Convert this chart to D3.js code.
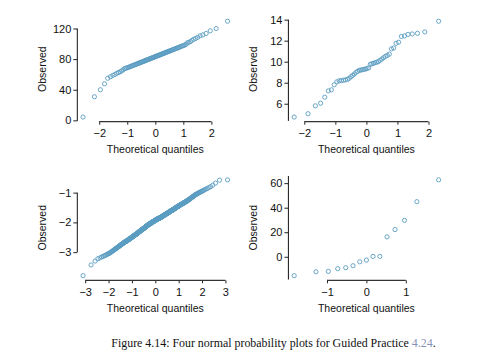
<!DOCTYPE html>
<html>
<head>
<meta charset="utf-8">
<script src="https://cdn.jsdelivr.net/npm/d3@7"></script>
<style>
  body { margin: 0; background: #fff; }
  svg { display: block; }
  text { font-family: "Liberation Sans", Arial, sans-serif; }
</style>
</head>
<body>
<div id="chart"></div>
<script>
const p1Obs = [4.3, 30.8, 40, 47.8, 55, 57, 58.7, 60, 61.5, 62.5,
  63.5, 64.5, 66, 67.5, 68, 68.5, 69.1, 69.6, 70.2, 70.7,
  71.3, 71.8, 72.3, 72.7, 73.2, 73.6, 74.1, 74.5, 75, 75.4,
  75.8, 76.2, 76.6, 77, 77.4, 77.8, 78.2, 78.6, 79, 79.3,
  79.7, 80.1, 80.5, 80.8, 81.2, 81.6, 81.9, 82.3, 82.6, 83,
  83.4, 83.8, 84.1, 84.5, 84.8, 85.2, 85.6, 85.9, 86.3, 86.7,
  87.1, 87.4, 87.8, 88.2, 88.6, 89, 89.4, 89.8, 90.2, 90.6,
  91, 91.4, 91.9, 92.3, 92.8, 93.2, 93.7, 94.1, 94.6, 95.1,
  95.7, 96.2, 96.8, 97.3, 97.9, 98.5, 99.5, 101.5, 102, 103,
  104.5, 106, 107, 108.5, 110.5, 111.7, 113.5, 117, 120, 129.5];

const p2Obs = [4.73, 5.05, 5.8, 6.05, 6.62, 7.22, 7.32, 7.8, 8.08, 8.18,
  8.2, 8.24, 8.26, 8.32, 8.42, 8.57, 8.7, 8.83, 8.99, 9.08,
  9.18, 9.2, 9.24, 9.28, 9.3, 9.35, 9.42, 9.75, 9.8, 9.85,
  9.9, 9.95, 10, 10.12, 10.25, 10.38, 10.5, 10.6, 10.72, 11.22,
  11.3, 11.75, 11.85, 12.4, 12.45, 12.6, 12.64, 12.7, 12.83, 13.85];

const p3Obs = [-3.79,-3.43,-3.30,-3.22,-3.19,-3.16,-3.14,-3.12,-3.10,-3.08,
  -3.06,-3.05,-3.03,-3.02,-3.00,-2.98,-2.97,-2.95,-2.94,-2.92,
  -2.91,-2.90,-2.88,-2.87,-2.86,-2.85,-2.84,-2.83,-2.82,-2.81,
  -2.80,-2.79,-2.78,-2.77,-2.76,-2.75,-2.75,-2.74,-2.73,-2.72,
  -2.71,-2.71,-2.70,-2.69,-2.68,-2.68,-2.67,-2.66,-2.66,-2.65,
  -2.65,-2.64,-2.64,-2.63,-2.63,-2.62,-2.62,-2.61,-2.61,-2.60,
  -2.59,-2.59,-2.58,-2.58,-2.57,-2.57,-2.56,-2.56,-2.55,-2.55,
  -2.54,-2.54,-2.53,-2.53,-2.52,-2.52,-2.51,-2.51,-2.50,-2.50,
  -2.49,-2.49,-2.48,-2.48,-2.48,-2.47,-2.47,-2.46,-2.46,-2.45,
  -2.45,-2.44,-2.44,-2.43,-2.43,-2.43,-2.42,-2.42,-2.41,-2.41,
  -2.41,-2.40,-2.40,-2.39,-2.39,-2.39,-2.38,-2.38,-2.37,-2.37,
  -2.37,-2.36,-2.36,-2.35,-2.35,-2.35,-2.34,-2.34,-2.33,-2.33,
  -2.33,-2.32,-2.32,-2.31,-2.31,-2.31,-2.30,-2.30,-2.29,-2.29,
  -2.29,-2.28,-2.28,-2.28,-2.27,-2.27,-2.27,-2.26,-2.26,-2.26,
  -2.25,-2.25,-2.24,-2.24,-2.24,-2.23,-2.23,-2.23,-2.22,-2.22,
  -2.22,-2.21,-2.21,-2.21,-2.20,-2.20,-2.20,-2.19,-2.19,-2.19,
  -2.18,-2.18,-2.18,-2.17,-2.17,-2.17,-2.16,-2.16,-2.15,-2.15,
  -2.15,-2.14,-2.14,-2.14,-2.13,-2.13,-2.13,-2.12,-2.12,-2.12,
  -2.11,-2.11,-2.11,-2.10,-2.10,-2.10,-2.10,-2.09,-2.09,-2.09,
  -2.08,-2.08,-2.08,-2.07,-2.07,-2.07,-2.07,-2.06,-2.06,-2.06,
  -2.05,-2.05,-2.05,-2.05,-2.04,-2.04,-2.04,-2.04,-2.03,-2.03,
  -2.03,-2.03,-2.02,-2.02,-2.02,-2.02,-2.01,-2.01,-2.01,-2.01,
  -2.00,-2.00,-2.00,-2.00,-1.99,-1.99,-1.99,-1.99,-1.98,-1.98,
  -1.98,-1.98,-1.97,-1.97,-1.97,-1.97,-1.96,-1.96,-1.96,-1.96,
  -1.95,-1.95,-1.95,-1.95,-1.94,-1.94,-1.94,-1.94,-1.93,-1.93,
  -1.93,-1.93,-1.93,-1.92,-1.92,-1.92,-1.92,-1.91,-1.91,-1.91,
  -1.91,-1.90,-1.90,-1.90,-1.90,-1.90,-1.89,-1.89,-1.89,-1.89,
  -1.89,-1.88,-1.88,-1.88,-1.88,-1.88,-1.87,-1.87,-1.87,-1.87,
  -1.87,-1.86,-1.86,-1.86,-1.86,-1.86,-1.85,-1.85,-1.85,-1.85,
  -1.85,-1.84,-1.84,-1.84,-1.84,-1.83,-1.83,-1.83,-1.82,-1.82,
  -1.82,-1.82,-1.81,-1.81,-1.81,-1.81,-1.80,-1.80,-1.80,-1.80,
  -1.79,-1.79,-1.79,-1.79,-1.78,-1.78,-1.78,-1.78,-1.77,-1.77,
  -1.77,-1.76,-1.76,-1.76,-1.76,-1.75,-1.75,-1.75,-1.74,-1.74,
  -1.74,-1.74,-1.73,-1.73,-1.73,-1.73,-1.72,-1.72,-1.72,-1.72,
  -1.71,-1.71,-1.71,-1.71,-1.70,-1.70,-1.70,-1.70,-1.69,-1.69,
  -1.69,-1.68,-1.68,-1.68,-1.68,-1.67,-1.67,-1.67,-1.66,-1.66,
  -1.66,-1.65,-1.65,-1.65,-1.64,-1.64,-1.64,-1.63,-1.63,-1.63,
  -1.63,-1.62,-1.62,-1.62,-1.61,-1.61,-1.61,-1.60,-1.60,-1.60,
  -1.60,-1.59,-1.59,-1.59,-1.58,-1.58,-1.58,-1.57,-1.57,-1.57,
  -1.56,-1.56,-1.56,-1.55,-1.55,-1.55,-1.54,-1.54,-1.53,-1.53,
  -1.53,-1.52,-1.52,-1.52,-1.51,-1.51,-1.50,-1.50,-1.49,-1.49,
  -1.49,-1.48,-1.48,-1.48,-1.47,-1.47,-1.47,-1.46,-1.46,-1.46,
  -1.45,-1.45,-1.44,-1.44,-1.43,-1.43,-1.42,-1.42,-1.41,-1.41,
  -1.41,-1.40,-1.40,-1.39,-1.39,-1.39,-1.38,-1.38,-1.37,-1.37,
  -1.36,-1.36,-1.35,-1.35,-1.34,-1.34,-1.33,-1.33,-1.32,-1.32,
  -1.31,-1.31,-1.30,-1.30,-1.29,-1.28,-1.28,-1.27,-1.26,-1.25,
  -1.25,-1.24,-1.23,-1.23,-1.22,-1.21,-1.20,-1.19,-1.18,-1.17,
  -1.16,-1.15,-1.14,-1.13,-1.12,-1.11,-1.10,-1.08,-1.07,-1.06,
  -1.05,-1.04,-1.03,-1.02,-1.00,-0.99,-0.98,-0.97,-0.95,-0.94,
  -0.92,-0.90,-0.88,-0.86,-0.83,-0.80,-0.75,-0.68,-0.58,-0.57];

const p4Obs = [-15.4, -12.2, -11.9, -9.7, -8.9, -7.3, -4.1, -2.7, 0.3, 0.3,
  16.2, 22.2, 29.7, 44.9, 62.7];

// tick labels
const p1XTicks = [-2, -1, 0, 1, 2], p1YTicks = [0, 40, 80, 120];
const p2XTicks = [-2, -1, 0, 1, 2], p2YTicks = [6, 8, 10, 12, 14];
const p3XTicks = [-3, -2, -1, 0, 1, 2, 3], p3YTicks = [-3, -2, -1];
const p4XTicks = [-1, 0, 1], p4YTicks = [0, 20, 40, 60];

const xTitle = "Theoretical quantiles";
const yTitle = "Observed";
const pointColor = "#5b9dc2";
const fmt = d3.format("d");

// plot regions (R style mfrow 2x2)
const plotW = 156, plotH = 103.5;
const panels = [
  { obs: p1Obs, xTicks: p1XTicks, yTicks: p1YTicks, left: 77.3, top: 17.4, yLine: [null, 120] },
  { obs: p2Obs, xTicks: p2XTicks, yTicks: p2YTicks, left: 288.4, top: 17.4, yLine: [null, 14] },
  { obs: p3Obs, xTicks: p3XTicks, yTicks: p3YTicks, left: 77.3, top: 176, yLine: [-3, -1] },
  { obs: p4Obs, xTicks: p4XTicks, yTicks: p4YTicks, left: 288.4, top: 176, yLine: [null, null] }
];

// inverse normal cdf (Acklam)
function qnorm(p) {
  const a = [-3.969683028665376e+01, 2.209460984245205e+02, -2.759285104469687e+02, 1.383577518672690e+02, -3.066479806614716e+01, 2.506628277459239e+00];
  const b = [-5.447609879822406e+01, 1.615858368580409e+02, -1.556989798598866e+02, 6.680131188771972e+01, -1.328068155288572e+01];
  const c = [-7.784894002430293e-03, -3.223964580411365e-01, -2.400758277161838e+00, -2.549732539343734e+00, 4.374664141464968e+00, 2.938163982698783e+00];
  const d = [7.784695709041462e-03, 3.224671290700398e-01, 2.445134137142996e+00, 3.754408661907416e+00];
  const pl = 0.02425;
  if (p < pl) {
    const q = Math.sqrt(-2 * Math.log(p));
    return (((((c[0]*q+c[1])*q+c[2])*q+c[3])*q+c[4])*q+c[5]) / ((((d[0]*q+d[1])*q+d[2])*q+d[3])*q+1);
  }
  if (p > 1 - pl) {
    const q = Math.sqrt(-2 * Math.log(1 - p));
    return -(((((c[0]*q+c[1])*q+c[2])*q+c[3])*q+c[4])*q+c[5]) / ((((d[0]*q+d[1])*q+d[2])*q+d[3])*q+1);
  }
  const q = p - 0.5, r = q * q;
  return (((((a[0]*r+a[1])*r+a[2])*r+a[3])*r+a[4])*r+a[5])*q / (((((b[0]*r+b[1])*r+b[2])*r+b[3])*r+b[4])*r+1);
}

// same plotting positions as R's qqnorm
const ppoints = n => {
  const a = n <= 10 ? 3 / 8 : 0.5;
  return d3.range(1, n + 1).map(i => (i - a) / (n + 1 - 2 * a));
};

const padRange = ([lo, hi]) => [lo - 0.04 * (hi - lo), hi + 0.04 * (hi - lo)];

const svg = d3.select("#chart").append("svg")
  .attr("width", 503)
  .attr("height", 362);

for (const p of panels) {
  const q = ppoints(p.obs.length).map(qnorm);
  const x = d3.scaleLinear(padRange(d3.extent(q)), [p.left, p.left + plotW]);
  const yDom = padRange(d3.extent(p.obs));
  const y = d3.scaleLinear(yDom, [p.top + plotH, p.top]);
  const g = svg.append("g");

  // points
  g.append("g").selectAll("circle")
    .data(p.obs)
    .join("circle")
    .attr("cx", (d, i) => x(q[i]))
    .attr("cy", d => y(d))
    .attr("r", 2.1)
    .attr("fill", "none")
    .attr("stroke", pointColor)
    .attr("stroke-width", 0.9);

  // x axis
  const axisY = p.top + plotH + 0.8;
  const gx = g.append("g")
    .attr("transform", `translate(0,${axisY})`)
    .call(d3.axisBottom(x).tickValues(p.xTicks).tickFormat(fmt).tickSize(3).tickPadding(5).tickSizeOuter(0));
  gx.select(".domain").remove();
  gx.append("line")
    .attr("x1", x(p.xTicks[0])).attr("x2", x(p.xTicks[p.xTicks.length - 1]))
    .attr("stroke", "#333").attr("stroke-width", 1.2);

  // y axis
  const gy = g.append("g")
    .attr("transform", `translate(${p.left},0)`)
    .call(d3.axisLeft(y).tickValues(p.yTicks).tickFormat(fmt).tickSize(4).tickPadding(2).tickSizeOuter(0));
  gy.select(".domain").remove();
  const y0 = p.yLine[0] == null ? yDom[0] : p.yLine[0];
  const y1 = p.yLine[1] == null ? yDom[1] : p.yLine[1];
  gy.append("line")
    .attr("y1", y(y0)).attr("y2", y(y1))
    .attr("stroke", "#111").attr("stroke-width", 1);

  g.selectAll(".tick line").attr("stroke", "#222");
  g.selectAll(".tick text")
    .attr("fill", "#111")
    .style("font-size", "11px")
    .style("font-family", "'Liberation Sans', Arial, sans-serif");

  // axis titles
  g.append("text")
    .attr("x", p.left + plotW / 2)
    .attr("y", axisY + 31.5)
    .attr("text-anchor", "middle")
    .style("font-size", "10.5px")
    .attr("fill", "#111")
    .text(xTitle);

  g.append("text")
    .attr("transform", `translate(${p.left - 31.5},${p.top + plotH / 2}) rotate(-90)`)
    .attr("text-anchor", "middle")
    .style("font-size", "10.5px")
    .attr("fill", "#111")
    .text(yTitle);
}

// caption
const caption = svg.append("text")
  .attr("x", 273.5)
  .attr("y", 347)
  .attr("text-anchor", "middle")
  .style("font-family", "'Liberation Serif', 'DejaVu Serif', serif")
  .style("font-size", "11.9px")
  .attr("fill", "#111");
caption.append("tspan").text("Figure 4.14: Four normal probability plots for Guided Practice ");
caption.append("tspan").attr("fill", "#8593b8").text("4.24");
caption.append("tspan").text(".");
</script>
</body>
</html>
